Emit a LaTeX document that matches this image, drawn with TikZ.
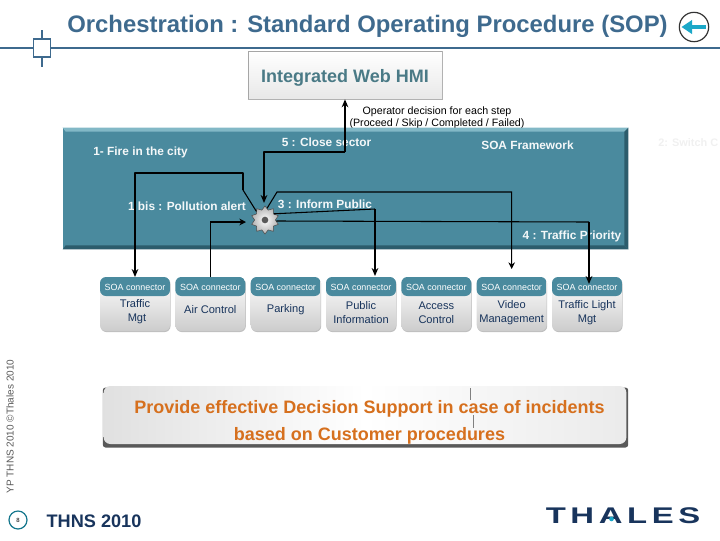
\documentclass[tikz,border=0pt]{standalone}
\usepackage{fontspec}
\setmainfont{Liberation Sans}
\usepackage{graphicx}
\usepackage{tikz}
\usetikzlibrary{arrows.meta,positioning,shapes.geometric,calc,shadows}
\definecolor{Rule}{RGB}{62,106,142}
\definecolor{Fw}{RGB}{74,138,158}
\definecolor{FwLight}{RGB}{130,184,198}
\definecolor{FwDark}{RGB}{44,92,108}
\definecolor{Navy}{RGB}{24,52,92}
\definecolor{Hmi}{RGB}{74,122,134}
\definecolor{Ora}{RGB}{214,112,30}
\definecolor{Back}{RGB}{28,168,200}
\tikzset{
  titl/.style={font=\fontsize{17.9}{20}\selectfont\bfseries,text=Rule,inner sep=0pt},
  hmibox/.style={draw=gray!70,line width=0.5pt,top color=white,bottom color=gray!18,minimum width=145.5pt,minimum height=36pt,inner sep=0pt,font=\fontsize{13.5}{16}\selectfont\bfseries,text=Hmi},
  fwbox/.style={fill=Fw,minimum width=423.75pt,minimum height=90.75pt,inner sep=0pt},
  fwlab/.style={font=\fontsize{8.9}{10}\selectfont\bfseries,text=white!94!Fw,inner sep=0pt},
  oplab/.style={font=\fontsize{8}{9}\selectfont,align=center,inner sep=0pt},
  conbox/.style={rounded corners=4.5pt,minimum width=52.5pt,minimum height=40.5pt,inner sep=0pt,outer sep=0pt,top color=white,bottom color=gray!40,
    drop shadow={shadow xshift=0.4pt,shadow yshift=-0.8pt,fill=gray,opacity=0.5},
    path picture={\fill[Fw] (path picture bounding box.north west) rectangle ([yshift=-14.25pt]path picture bounding box.north east);},
    label={[conlab]north:SOA connector}},
  conlab/.style={anchor=center,yshift=-7.5pt,font=\fontsize{6.7}{7}\selectfont,text=white,inner sep=0pt},
  contxt/.style={yshift=-6.75pt,font=\fontsize{8.3}{10.5}\selectfont,text=Navy,align=center,inner sep=0pt},
  sarr/.style={-{Stealth[length=6pt,width=5pt]},line width=1.5pt,line join=round},
  tarr/.style={-{Stealth[length=5pt,width=5pt]},line width=0.8pt},
  gearbox/.style={star,star points=10,star point ratio=1.35,minimum size=21pt,inner sep=0pt,draw=black!70,line width=0.4pt,inner color=white,outer color=gray!60},
  gearhub/.style={circle,minimum size=5pt,inner sep=0pt,fill=black!65},
  panelbox/.style={rounded corners=5pt,minimum width=392pt,minimum height=43.5pt,inner sep=0pt,left color=gray!24,right color=gray!16,middle color=white},
  panelback/.style={rounded corners=2pt,fill=black!65,minimum width=394pt,minimum height=45pt,inner sep=0pt},
  panellab/.style={font=\fontsize{13.5}{20}\selectfont\bfseries,text=Ora,align=center,inner sep=0pt}
}
\begin{document}
\begin{tikzpicture}[x=0.75pt,y=-0.75pt,node distance=4pt and 4pt]
\useasboundingbox (0,0) rectangle (720,540);
% title bar
\coordinate (rulel) at (0,48);
\coordinate (ruler) at (720,48);
\draw[Rule,line width=2.2pt] (rulel) -- (ruler);
\node[draw=Rule,line width=0.8pt,fill=white,minimum width=13pt,minimum height=13.5pt,inner sep=0pt] (mark) at (42,48) {};
\coordinate (markt) at (42,30);
\coordinate (markb) at (42,67);
\draw[Rule,line width=1.6pt] (markt) -- (mark.north);
\draw[Rule,line width=1.6pt] (mark.south) -- (markb);
\node[titl] (title) at (367.5,26) {Orchestration : Standard Operating Procedure (SOP)};
\node[circle,draw=black!80,line width=0.9pt,fill=white,minimum size=22pt,inner sep=0pt] (back) at (694,27) {};
\draw[-{Triangle[length=8pt,width=10pt]},Back,line width=3pt,shorten >=2pt,shorten <=2.5pt] (back.east) -- (back.west);
% HMI
\node[hmibox] (hmi) at (345,75) {\raisebox{0pt}[11.4pt][0pt]{Integrated Web HMI}};
\draw[gray!60,line width=1.2pt] (hmi.south west) -- (hmi.south east) -- (hmi.north east);
\node[oplab] (oper) at (437,117.5) {Operator decision for each step\\(Proceed / Skip / Completed / Failed)};
% framework
\node[fwbox] (fw) at (345.5,188.5) {};
\fill[FwLight] (fw.north west) -- (fw.north east) -- ++(-4,4) -- ($(fw.north west)+(3,4)$) -- cycle;
\fill[FwDark] (fw.south west) -- (fw.south east) -- ++(-4,-4) -- ($(fw.south west)+(3,-4)$) -- cycle;
\fill[FwDark] (fw.north east) -- (fw.south east) -- ++(-4,-4) -- ($(fw.north east)+(-4,4)$) -- cycle;
\node[fwlab] (fire) at (140.5,152) {1- Fire in the city};
\node[fwlab] (poll) at (187,206) {1 bis : Pollution alert};
\node[fwlab] (close) at (326.5,142) {5 : Close sector};
\node[fwlab] (inform) at (325,204) {3 : Inform Public};
\node[fwlab] (soafw) at (527.5,145) {SOA Framework};
\node[fwlab] (prio) at (572,236) {4 : Traffic Priority};
\node[fwlab,font=\fontsize{8.2}{10}\selectfont\bfseries,text=black!6,anchor=west] (switch) at (658,143) {2: Switch C};
\node[gearbox] (gear) at (265,220) {};
\node[gearhub] (hub) at (gear) {};
% connectors row
\node[conbox] (traffic) at (135,304) {};
\node[conbox,right=of traffic] (air) {};
\node[conbox,right=of air] (parking) {};
\node[conbox,right=of parking] (public) {};
\node[conbox,right=of public] (access) {};
\node[conbox,right=of access] (video) {};
\node[conbox,right=of video] (light) {};
\node[contxt,yshift=0.85pt] (traffictxt) at (traffic) {Traffic\\\hspace*{3pt}Mgt};
\node[contxt,yshift=2.55pt] (airtxt) at (air) {Air Control};
\node[contxt,yshift=2.55pt] (parkingtxt) at (parking) {Parking};
\node[contxt] (publictxt) at (public) {Public\\Information};
\node[contxt] (accesstxt) at (access) {Access\\Control};
\node[contxt] (videotxt) at (video) {Video\\Management};
\node[contxt] (lighttxt) at (light) {Traffic Light\\Mgt};
% bends
\coordinate (topin) at (345,152);
\coordinate (gearin) at (264,203);
\coordinate (bendf) at (243,190);
\coordinate (bendg) at (243,173);
\coordinate (airend) at (246,222);
\coordinate (bendi) at (375,209);
\coordinate (pubend) at (375,276);
\coordinate (bendv) at (277,192);
\coordinate (bendt) at (589,222);
\coordinate (lightend) at (589,284);
\draw[sarr,{Stealth[length=6pt,width=5pt]}-] (hmi.south) -- (topin);
\draw[sarr] (topin) -| (gearin);
\draw[line width=0.8pt] (gear.135) -- (bendf);
\draw[sarr] (bendf) -- (bendg) -| (traffic.north);
\draw[tarr] (air.north) |- (airend);
\draw[line width=0.8pt] (gear.35) -- (bendi);
\draw[sarr] (bendi) -- (pubend);
\draw[tarr] (gear.80) -- (bendv) -| ([yshift=6pt]video.north);
\draw[line width=0.8pt] (gear.355) -- (bendt);
\draw[sarr] (bendt) -- (lightend);
% panel
\node[panelback] (pback) at (365.5,417.5) {};
\node[panelbox] (panel) at (365,415) {};
\node[panellab] (panelt) at (369.5,422.5) {Provide effective Decision Support in case of incidents\\based on Customer procedures};
\coordinate (ticka) at (470.5,388);
\coordinate (tickb) at (470.5,400);
\coordinate (tickc) at (473.5,415);
\coordinate (tickd) at (473.5,428);
\draw[gray,line width=0.4pt] (ticka) -- (tickb);
\draw[gray,line width=0.4pt] (tickc) -- (tickd);
% footer
\node[rotate=90,font=\fontsize{7.5}{9}\selectfont,text=black!65,inner sep=0pt] (copy) at (10,426.5) {YP THNS 2010 ©Thales 2010};
\node[circle,draw=Back!70!black,line width=0.9pt,minimum size=13.5pt,inner sep=0pt,font=\fontsize{4.5}{5}\selectfont] (page) at (18,520) {8};
\node[font=\fontsize{13.6}{16}\selectfont\bfseries,text=Navy,inner sep=0pt] (thns) at (94,521) {THNS 2010};
\node[font=\fontsize{17}{20}\selectfont\bfseries,text=Navy,inner sep=0pt] (logo) at (623,516) {\scalebox{1.45}[1]{\addfontfeature{LetterSpace=14}THALES}};
\node[circle,fill=Back,minimum size=3.5pt,inner sep=0pt] (logodot) at (611.5,519) {};
\end{tikzpicture}
\end{document}
